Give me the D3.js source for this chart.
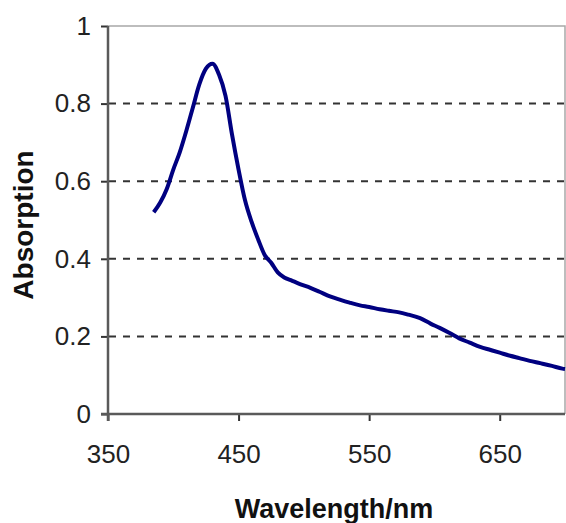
<!DOCTYPE html>
<html>
<head>
<meta charset="utf-8">
<script src="https://cdn.jsdelivr.net/npm/d3@7"></script>
<style>
  body { margin: 0; background: #fff; }
  text { font-family: "Liberation Sans", Arial, sans-serif; }
</style>
</head>
<body>
<div id="chart"></div>
<script>
// spectrum
var wavelengths = [385, 390, 395, 400, 405, 410, 415, 420, 425, 430, 435, 440, 445, 450,
  455, 460, 465, 470, 475, 480, 485, 490, 497, 505, 512, 520, 528, 535, 543, 550, 558,
  565, 573, 580, 589, 597, 604, 612, 619, 627, 635, 643, 650, 658, 665, 673, 681, 690, 698, 700];
var absorption = [0.52, 0.545, 0.58, 0.63, 0.675, 0.73, 0.79, 0.85, 0.89, 0.903, 0.875, 0.82,
  0.72, 0.63, 0.55, 0.495, 0.45, 0.41, 0.39, 0.365, 0.352, 0.345, 0.335, 0.325, 0.315, 0.303,
  0.294, 0.287, 0.28, 0.276, 0.27, 0.266, 0.262, 0.256, 0.247, 0.233, 0.222, 0.208, 0.195,
  0.184, 0.173, 0.165, 0.158, 0.15, 0.144, 0.137, 0.131, 0.124, 0.117, 0.116];
var xTicks = [350, 450, 550, 650];
var yTicks = [0, 0.2, 0.4, 0.6, 0.8, 1];
var gridValues = [0.2, 0.4, 0.6, 0.8];

var svgWidth = 566;
var svgHeight = 523;

var svg = d3.select("#chart")
  .append("svg")
  .attr("width", svgWidth)
  .attr("height", svgHeight);

var x = d3.scaleLinear().domain([350, 700]).range([108, 565]);
var y = d3.scaleLinear().domain([0, 1]).range([414, 26]);

// top and right border of plot area
svg.append("path")
  .attr("d", `M${x(350)},${y(1)}H${x(700)}V${y(0)}`)
  .attr("fill", "none")
  .attr("stroke", "#a8a8a8")
  .attr("stroke-width", 1.5);

// dashed gridlines
svg.selectAll(".grid")
  .data(gridValues)
  .enter()
  .append("line")
  .attr("class", "grid")
  .attr("x1", x(350) + 1)
  .attr("x2", x(700))
  .attr("y1", d => y(d))
  .attr("y2", d => y(d))
  .attr("stroke", "#333")
  .attr("stroke-width", 2)
  .attr("stroke-dasharray", "7,7");

// axes
var leftAxis = d3.axisLeft(y)
  .tickValues(yTicks)
  .tickSize(7)
  .tickSizeOuter(0)
  .tickPadding(10)
  .tickFormat(d => d);

var bottomAxis = d3.axisBottom(x)
  .tickValues(xTicks)
  .tickSize(7)
  .tickSizeOuter(0)
  .tickPadding(24)
  .tickFormat(d => d);

var yAxis = svg.append("g")
  .attr("transform", `translate(${x(350)},0)`)
  .call(leftAxis);

var xAxis = svg.append("g")
  .attr("transform", `translate(0,${y(0)})`)
  .call(bottomAxis);

[xAxis, yAxis].forEach(function(ax) {
  ax.select(".domain").remove();
  ax.selectAll("line").attr("stroke", "#333").attr("stroke-width", 2);
  ax.selectAll("text")
    .attr("font-size", 26)
    .attr("fill", "#222")
    .style("font-family", "'Liberation Sans', Arial, sans-serif");
});

// axis lines
svg.append("line")
  .attr("x1", x(350)).attr("x2", x(350))
  .attr("y1", y(1)).attr("y2", y(0) + 7)
  .attr("stroke", "#5a5a5a")
  .attr("stroke-width", 2.5);

svg.append("line")
  .attr("x1", x(350) - 7).attr("x2", x(700))
  .attr("y1", y(0)).attr("y2", y(0))
  .attr("stroke", "#5a5a5a")
  .attr("stroke-width", 2.5);

// the spectrum
var points = wavelengths.map((w, i) => [w, absorption[i]]);

var line = d3.line()
  .x(d => x(d[0]))
  .y(d => y(d[1]))
  .curve(d3.curveMonotoneX);

svg.append("path")
  .datum(points)
  .attr("d", line)
  .attr("fill", "none")
  .attr("stroke", "#000080")
  .attr("stroke-width", 4)
  .attr("stroke-linejoin", "round");

// axis titles
svg.append("text")
  .attr("x", 334)
  .attr("y", 518)
  .attr("text-anchor", "middle")
  .attr("font-size", 27)
  .attr("font-weight", "bold")
  .attr("fill", "#111")
  .text("Wavelength/nm");

svg.append("text")
  .attr("transform", "translate(33,225) rotate(-90)")
  .attr("text-anchor", "middle")
  .attr("font-size", 28)
  .attr("font-weight", "bold")
  .attr("fill", "#111")
  .text("Absorption");
</script>
</body>
</html>
